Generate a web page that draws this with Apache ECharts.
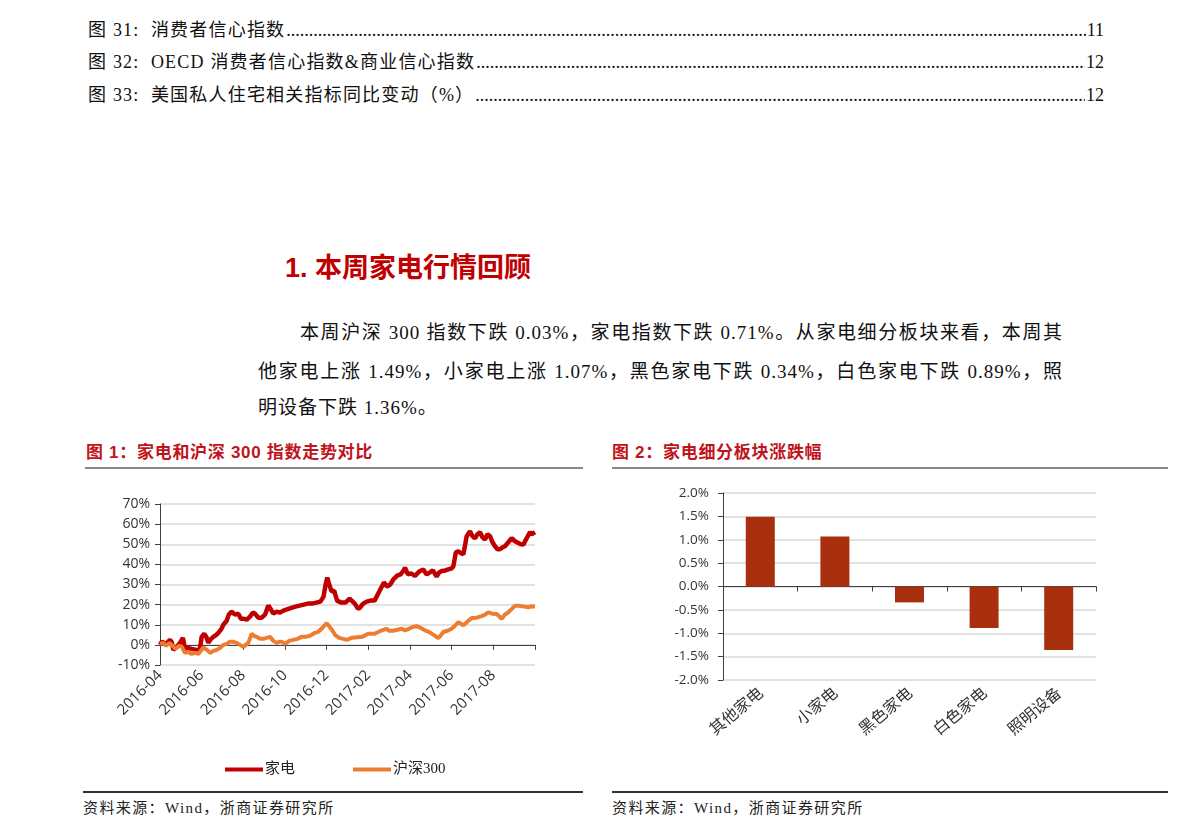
<!DOCTYPE html>
<html><head><meta charset="utf-8">
<script src="https://cdn.jsdelivr.net/npm/echarts@6/dist/echarts.min.js"></script>
<style>
html,body{margin:0;padding:0;background:#fff;}
body{width:1191px;height:838px;position:relative;overflow:hidden;font-family:"Liberation Serif","Noto Sans CJK SC",serif;color:#111;}
.toc{position:absolute;left:88px;width:1016px;display:flex;font-size:18px;line-height:22px;letter-spacing:1.2px;white-space:nowrap;}
.toc .dots{flex:1;overflow:hidden;white-space:nowrap;letter-spacing:0;margin:0 1px;}
.toc .pg{letter-spacing:0;}
h1{position:absolute;left:285px;top:250px;margin:0;font-family:Arial,"Liberation Sans","Noto Sans CJK SC",sans-serif;font-weight:bold;font-size:27px;line-height:36px;color:#c00000;}
.para{position:absolute;left:258px;width:805px;font-size:19px;line-height:22px;letter-spacing:1px;white-space:nowrap;}
.just{text-align:justify;text-align-last:justify;white-space:normal;}
.ctitle{position:absolute;top:441px;font-family:"Liberation Sans","Noto Sans CJK SC",sans-serif;font-weight:bold;font-size:17px;line-height:24px;color:#c0141c;letter-spacing:0.7px;}
.rule{position:absolute;height:2px;}
.src{position:absolute;top:798px;font-size:15px;line-height:20px;color:#222;letter-spacing:1.4px;}
.chart{position:absolute;top:478px;height:312px;}
</style></head>
<body>
<div class="toc" style="top:19px"><span>图 31:&nbsp; 消费者信心指数</span><span class="dots" id="d1"></span><span class="pg">11</span></div>
<div class="toc" style="top:51px"><span>图 32:&nbsp; OECD 消费者信心指数&amp;商业信心指数</span><span class="dots" id="d2"></span><span class="pg">12</span></div>
<div class="toc" style="top:84px"><span>图 33:&nbsp; 美国私人住宅相关指标同比变动（%）</span><span class="dots" id="d3"></span><span class="pg">12</span></div>

<h1>1. 本周家电行情回顾</h1>

<div class="para just" style="top:322px;left:300px;width:763px;">本周沪深 300 指数下跌 0.03%，家电指数下跌 0.71%。从家电细分板块来看，本周其</div>
<div class="para just" style="top:361px;">他家电上涨 1.49%，小家电上涨 1.07%，黑色家电下跌 0.34%，白色家电下跌 0.89%，照</div>
<div class="para" style="top:397px;">明设备下跌 1.36%。</div>

<div class="ctitle" style="left:86px;">图 1：家电和沪深 300 指数走势对比</div>
<div class="ctitle" style="left:612px;">图 2：家电细分板块涨跌幅</div>
<div class="rule" style="left:85px;width:498px;top:467px;background:#8a8a8a;"></div>
<div class="rule" style="left:612px;width:556px;top:467px;background:#8a8a8a;"></div>

<div class="chart" id="c1" style="left:83px;width:500px;"></div>
<div class="chart" id="c2" style="left:612px;width:556px;"></div>

<div class="rule" style="left:83px;width:500px;top:791px;background:#333;"></div>
<div class="rule" style="left:612px;width:556px;top:791px;background:#333;"></div>
<div class="src" style="left:83px;">资料来源：Wind，浙商证券研究所</div>
<div class="src" style="left:612px;">资料来源：Wind，浙商证券研究所</div>

<script>
// ---------- Chart 1 data (x = months since 2016-04) ----------
var tickLabels1 = ['2016-04','2016-06','2016-08','2016-10','2016-12','2017-02','2017-04','2017-06','2017-08'];
var seriesNames1 = ['家电','沪深300'];
var jdX = [0,0.08,0.3,0.48,0.56,0.64,0.8,0.96,1.1,1.2,1.35,1.52,1.76,1.9,2.0,2.12,2.22,2.32,2.45,2.56,2.7,2.8,2.95,3.04,3.2,3.3,3.44,3.6,3.76,3.88,4.0,4.16,4.32,4.45,4.56,4.72,4.88,5.04,5.2,5.3,5.44,5.6,5.76,5.92,6.0,6.2,6.5,6.7,6.9,7.1,7.3,7.5,7.7,7.85,7.95,8.03,8.12,8.24,8.36,8.5,8.7,8.9,9.1,9.2,9.35,9.5,9.6,9.75,9.92,10.1,10.3,10.45,10.6,10.75,10.9,11.05,11.2,11.4,11.55,11.7,11.76,11.9,12.05,12.24,12.45,12.64,12.8,12.96,13.1,13.28,13.4,13.52,13.7,13.84,14.0,14.08,14.2,14.32,14.45,14.56,14.65,14.72,14.88,15.0,15.12,15.24,15.36,15.48,15.6,15.72,15.84,15.96,16.08,16.2,16.32,16.45,16.56,16.72,16.88,17.04,17.2,17.32,17.44,17.6,17.76,17.85,17.92,18.0];
var jdY = [0,1.5,0.5,2.5,1.5,-2.5,-1,1,3.5,-2,-1.5,-2,-2.5,-3,4,5.5,4,1,3,4,5,6,8,10,12,15,16.5,15,15.5,13,13,12.5,14,16,15.5,13.5,13.5,15,19.5,18,15.5,16.5,16,17,17,18,19,19.5,20,20.5,20.5,21,21.5,24,30,33.5,30,26.5,27,22,21,21,23,22,20.5,18,18.5,20.5,21.5,22,22,25,28,31,29,30,32.5,34.5,35,37,38.4,35,35.5,34.3,36.5,37.5,35,36,37,34,36,36.7,37,37.5,38,39,46,46.5,45.5,45,50,54,56.4,54,53,55,56,53.5,52.3,55,54,51,49,47.5,47.5,48.5,49,51,53,51.5,50.6,50,49.8,53,56,55,54.8,56];
var hsX = [0,0.15,0.3,0.45,0.6,0.75,0.9,1.05,1.2,1.35,1.52,1.7,1.84,1.95,2.08,2.25,2.4,2.56,2.72,2.88,3.04,3.2,3.36,3.52,3.68,3.84,4.0,4.12,4.24,4.4,4.52,4.64,4.8,4.96,5.12,5.28,5.44,5.6,5.72,5.84,6.0,6.2,6.4,6.6,6.8,7.0,7.2,7.44,7.6,7.8,8.0,8.1,8.25,8.4,8.6,8.8,8.96,9.2,9.5,9.7,10.0,10.3,10.6,10.85,11.0,11.2,11.4,11.6,11.76,11.95,12.15,12.32,12.5,12.72,12.9,13.04,13.2,13.36,13.5,13.6,13.8,14.0,14.16,14.32,14.45,14.56,14.75,14.96,15.2,15.44,15.6,15.76,15.95,16.16,16.3,16.4,16.55,16.72,16.9,17.04,17.2,17.36,17.52,17.68,17.85,18.0];
var hsY = [0.5,1,-0.5,1,-0.5,-2,-0.5,-1,-4,-3.5,-4.5,-4,-4.5,-3,-1.3,-2.5,-4,-3,-2.5,-1.5,0,0.5,1.6,1.5,1,0,-1,0,1,5.5,4.5,4,3,3,3.5,4,2,1,1.5,1.6,0.5,2,2.5,3,4,4,4.5,6,6.5,8.5,10.8,9.5,7.5,5,3.5,3,2.5,3.5,3.8,4,5.5,5.5,7,8,7,7,7.5,8,7.2,8,9,9.3,8.5,7.2,6.5,5.6,4.5,3.4,5,6.4,7,8,9.5,11.3,10.5,9.7,11.5,13.3,13.5,14.3,15,16.2,15.5,15.4,14,13,15,16.2,18,19.5,19.5,19.2,19,18.7,19.2,19];

// ---------- Chart 2 data ----------
var categories2 = ['其他家电','小家电','黑色家电','白色家电','照明设备'];
var values2 = [1.49, 1.07, -0.34, -0.89, -1.36];

// TOC leader dots
['d1','d2','d3'].forEach(function(id){document.getElementById(id).textContent='.'.repeat(400);});

function zip(a,b){return a.map(function(v,i){return [v,b[i]];});}

var axisCol = '#404040', gridCol = '#d9d9d9', lblCol = '#333';
var sans = '"Open Sans","Noto Sans","Noto Sans CJK SC",sans-serif';

var c1 = echarts.init(document.getElementById('c1'));
c1.setOption({
  animation:false,
  grid:{left:77, top:26, width:375, height:161},
  legend:{
    left:142, top:284, padding:0, itemWidth:38, itemHeight:4, itemGap:58, icon:'rect',
    textStyle:{fontFamily:'"Liberation Serif","Noto Sans CJK SC",serif', fontSize:15, color:'#222', padding:[0,0,0,-3]},
    data:seriesNames1
  },
  xAxis:[
    {type:'value', min:0, max:18, interval:2, position:'bottom',
     axisLine:{show:true, onZero:true, lineStyle:{color:axisCol, width:1}},
     axisTick:{show:true, length:5, lineStyle:{color:axisCol}},
     axisLabel:{show:false}, splitLine:{show:false}},
    {type:'value', min:0, max:18, interval:2, position:'bottom',
     axisLine:{show:false, onZero:false}, axisTick:{show:false}, splitLine:{show:false},
     axisLabel:{show:true, rotate:45, margin:8, fontFamily:sans, fontSize:15, color:lblCol,
       formatter:function(v){var i=Math.round(v/2); return (v%2===0 && i<tickLabels1.length)?tickLabels1[i]:'';}}}
  ],
  yAxis:{type:'value', min:-10, max:70, interval:10,
    axisLine:{show:true, lineStyle:{color:axisCol}},
    axisTick:{show:true, length:5, lineStyle:{color:axisCol}},
    axisLabel:{margin:10, fontFamily:sans, fontSize:14, color:lblCol, formatter:function(v){return v+'%';}},
    splitLine:{show:true, lineStyle:{color:gridCol, width:1.5}}},
  series:[
    {name:seriesNames1[0], type:'line', xAxisIndex:0, data:zip(jdX,jdY), symbol:'none', z:3,
     lineStyle:{color:'#c00000', width:4.5}, itemStyle:{color:'#c00000'}},
    {name:seriesNames1[1], type:'line', xAxisIndex:0, data:zip(hsX,hsY), symbol:'none', z:4,
     lineStyle:{color:'#ed7d31', width:4}, itemStyle:{color:'#ed7d31'}}
  ]
});

var c2 = echarts.init(document.getElementById('c2'));
c2.setOption({
  animation:false,
  grid:{left:111, top:15, width:373, height:187},
  xAxis:[
    {type:'category', data:categories2, position:'bottom',
     axisLine:{show:true, onZero:true, lineStyle:{color:axisCol}},
     axisTick:{show:true, length:5, alignWithLabel:false, lineStyle:{color:axisCol}},
     axisLabel:{show:false}, splitLine:{show:false}},
    {type:'category', data:categories2, position:'bottom',
     axisLine:{show:false, onZero:false}, axisTick:{show:false}, splitLine:{show:false},
     axisLabel:{show:true, rotate:40, margin:10, interval:0, fontFamily:'"Noto Sans CJK SC",sans-serif', fontSize:16, color:lblCol}}
  ],
  yAxis:{type:'value', min:-2, max:2, interval:0.5,
    axisLine:{show:true, lineStyle:{color:axisCol}},
    axisTick:{show:true, length:5, lineStyle:{color:axisCol}},
    axisLabel:{margin:14, fontFamily:sans, fontSize:13.5, color:lblCol, formatter:function(v){return v.toFixed(1)+'%';}},
    splitLine:{show:true, lineStyle:{color:gridCol, width:1.5}}},
  series:[
    {type:'bar', xAxisIndex:0, data:values2, barWidth:29, itemStyle:{color:'#a8300f'}}
  ]
});
</script>
</body></html>
